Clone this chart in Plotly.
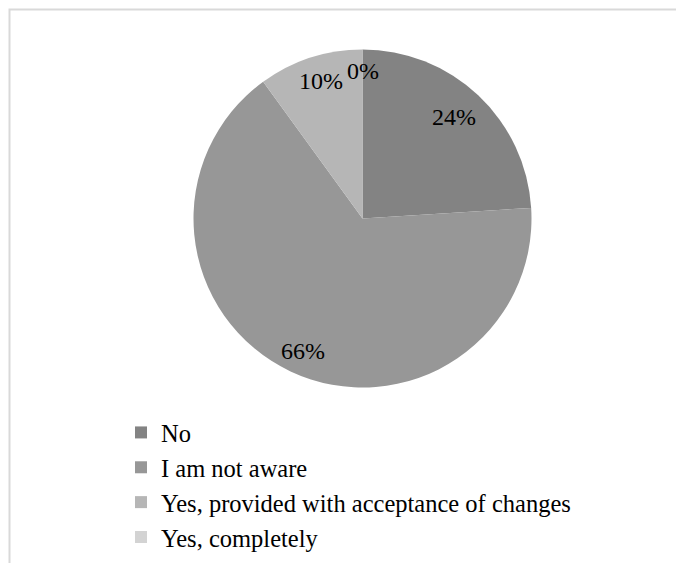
import math
import plotly.graph_objects as go

labels = ["No", "I am not aware", "Yes, provided with acceptance of changes", "Yes, completely"]
values = [24, 66, 10, 0]
colors = ["#838383", "#979797", "#b6b6b6", "#d3d3d3"]
pct_text = [f"{v}%" for v in values]
# radial placement of each percentage label (fraction of radius), like Excel's best-fit
label_radius = [0.81, 0.86, 0.85, 0.87]
label_angle_shift = [-1, -1, 1, 0]  # degrees, fine tuning of best-fit placement

W, H = 676, 563
FONT = "Liberation Serif, Times New Roman, DejaVu Serif, serif"

dom_x = [193.5 / W, 531.5 / W]
dom_y = [1 - 387.5 / H, 1 - 49.5 / H]

fig = go.Figure()
fig.add_trace(go.Pie(
    labels=labels,
    values=values,
    textinfo="none",
    sort=False,
    direction="clockwise",
    rotation=0,
    marker=dict(colors=colors, line=dict(width=0)),
    domain=dict(x=dom_x, y=dom_y),
    showlegend=True,
    hoverinfo="label+percent",
))

cx = (dom_x[0] + dom_x[1]) / 2
cy = (dom_y[0] + dom_y[1]) / 2
r_px = min((dom_x[1] - dom_x[0]) * W, (dom_y[1] - dom_y[0]) * H) / 2
total = sum(values)
cum = 0
annotations = []
for v, t, f, s in zip(values, pct_text, label_radius, label_angle_shift):
    mid = (cum + v / 2) / total * 360 + s
    cum += v
    th = math.radians(mid)
    ax = cx + r_px * f * math.sin(th) / W
    ay = cy + r_px * f * math.cos(th) / H
    annotations.append(dict(
        x=ax, y=ay, xref="paper", yref="paper", text=t, showarrow=False,
        xanchor="center", yanchor="middle",
        font=dict(family=FONT, size=24, color="#000000"),
    ))

fig.update_layout(
    width=W, height=H,
    margin=dict(l=0, r=0, t=0, b=0),
    paper_bgcolor="white",
    plot_bgcolor="white",
    font=dict(family=FONT, size=24.5, color="#000000"),
    annotations=annotations,
    legend=dict(
        x=121 / W, y=1 - 410 / H,
        xanchor="left", yanchor="top",
        orientation="v",
        font=dict(family=FONT, size=24.5, color="#000000"),
        itemwidth=30,
        bgcolor="rgba(0,0,0,0)",
    ),
    shapes=[dict(
        type="rect", xref="paper", yref="paper",
        x0=9.5 / W, y0=-0.02, x1=1.02, y1=1 - 9.5 / H,
        line=dict(color="#d9d9d9", width=2),
        layer="below",
    )],
)

fig.write_html("out.html")
